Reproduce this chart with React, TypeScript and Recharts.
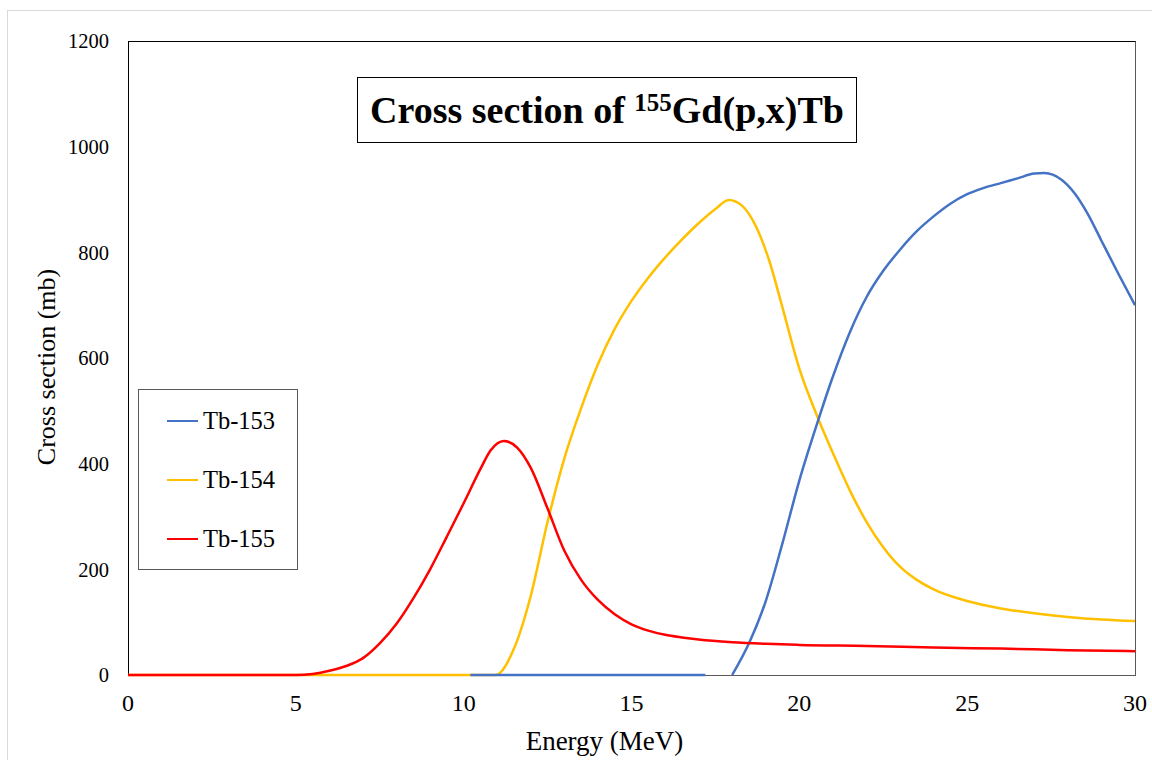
import React from "react";
import { LineChart, Line, XAxis, YAxis, Legend } from "recharts";

// ---- Data (energy in MeV, cross section in mb) ----
const tb153: { e: number; v: number | null }[] = [
  { e: 10.2, v: 0 }, { e: 17.2, v: 0 }, { e: 17.6, v: null }, { e: 18.0, v: 0 },
  { e: 18.5, v: 60 }, { e: 19, v: 140 }, { e: 19.5, v: 250 }, { e: 20, v: 368 },
  { e: 20.5, v: 470 }, { e: 21, v: 565 }, { e: 21.5, v: 648 }, { e: 22, v: 715 },
  { e: 22.5, v: 765 }, { e: 23, v: 805 }, { e: 23.5, v: 840 }, { e: 24, v: 868 },
  { e: 24.5, v: 892 }, { e: 25, v: 910 }, { e: 25.5, v: 922 }, { e: 26, v: 931 },
  { e: 26.5, v: 940 }, { e: 27, v: 949 }, { e: 27.3, v: 950 }, { e: 27.8, v: 938 },
  { e: 28.2, v: 912 }, { e: 28.6, v: 872 }, { e: 29, v: 822 }, { e: 29.5, v: 760 },
  { e: 30, v: 700 },
];

const tb154: { e: number; v: number }[] = [
  { e: 0, v: 0 }, { e: 10.95, v: 0 }, { e: 11.5, v: 50 }, { e: 12, v: 150 },
  { e: 12.5, v: 290 }, { e: 13, v: 410 }, { e: 13.5, v: 505 }, { e: 14, v: 588 },
  { e: 14.5, v: 655 }, { e: 15, v: 708 }, { e: 15.5, v: 752 }, { e: 16, v: 790 },
  { e: 16.5, v: 824 }, { e: 17, v: 855 }, { e: 17.5, v: 882 }, { e: 17.9, v: 899 },
  { e: 18.3, v: 888 }, { e: 18.7, v: 850 }, { e: 19.1, v: 785 }, { e: 19.5, v: 695 },
  { e: 20, v: 580 }, { e: 20.5, v: 495 }, { e: 21, v: 420 }, { e: 21.5, v: 350 },
  { e: 22, v: 290 }, { e: 22.5, v: 242 }, { e: 23, v: 205 }, { e: 23.5, v: 180 },
  { e: 24, v: 162 }, { e: 25, v: 140 }, { e: 26, v: 126 }, { e: 27, v: 117 },
  { e: 28, v: 110 }, { e: 29, v: 105 }, { e: 30, v: 102 },
];

const tb155: { e: number; v: number }[] = [
  { e: 0, v: 0 }, { e: 5, v: 0 }, { e: 5.5, v: 2 }, { e: 6, v: 8 },
  { e: 6.5, v: 17 }, { e: 7, v: 32 }, { e: 7.5, v: 60 }, { e: 8, v: 97 },
  { e: 8.5, v: 145 }, { e: 9, v: 200 }, { e: 9.5, v: 262 }, { e: 10, v: 325 },
  { e: 10.5, v: 390 }, { e: 10.8, v: 425 }, { e: 11.2, v: 443 }, { e: 11.6, v: 430 },
  { e: 12, v: 392 }, { e: 12.5, v: 315 }, { e: 13, v: 235 }, { e: 13.5, v: 180 },
  { e: 14, v: 142 }, { e: 14.5, v: 115 }, { e: 15, v: 96 }, { e: 15.5, v: 84 },
  { e: 16, v: 76 }, { e: 16.5, v: 71 }, { e: 17, v: 67 }, { e: 18, v: 62 },
  { e: 19, v: 59 }, { e: 20, v: 57 }, { e: 22, v: 55 }, { e: 24, v: 52 },
  { e: 26, v: 50 }, { e: 28, v: 47 }, { e: 30, v: 45 },
];

const seriesNames = ["Tb-153", "Tb-154", "Tb-155"];
const seriesColors = ["#4472C4", "#FFC000", "#FF0000"];

const xTicks = [0, 5, 10, 15, 20, 25, 30];
const yTicks = [0, 200, 400, 600, 800, 1000, 1200];

const xTitle = "Energy (MeV)";
const yTitle = "Cross section (mb)";

const FONT = '"Liberation Serif", "Times New Roman", serif';

const LegendBox = () => (
  <div
    style={{
      position: "relative",
      width: 160,
      height: 181,
      boxSizing: "border-box",
      border: "1.3px solid #595959",
      background: "#fff",
      fontFamily: FONT,
    }}
  >
    {seriesNames.map((n, i) => (
      <div
        key={n}
        style={{
          position: "absolute",
          left: 0,
          top: 31 + i * 59 - 15,
          height: 30,
          display: "flex",
          alignItems: "center",
        }}
      >
        <div
          style={{
            marginLeft: 28,
            width: 31,
            height: 2.5,
            background: seriesColors[i],
          }}
        />
        <span
          style={{
            marginLeft: 5,
            fontSize: 24.5,
            color: "#000",
            lineHeight: "30px",
          }}
        >
          {n}
        </span>
      </div>
    ))}
  </div>
);

const XTitle = (props: any) => {
  const vb = props.viewBox || {};
  return (
    <text
      x={vb.x + vb.width / 2 - 27}
      y={750}
      textAnchor="middle"
      fontFamily={FONT}
      fontSize={27}
      fill="#000"
    >
      {xTitle}
    </text>
  );
};

const YTitle = (props: any) => {
  const vb = props.viewBox || {};
  const cx = 46;
  const cy = vb.y + vb.height / 2 + 9;
  return (
    <text
      x={cx}
      y={cy}
      textAnchor="middle"
      dominantBaseline="central"
      transform={`rotate(-90, ${cx}, ${cy})`}
      fontFamily={FONT}
      fontSize={26}
      fill="#000"
    >
      {yTitle}
    </text>
  );
};

export default function App() {
  const order = [1, 0, 2];
  const datas = [tb153, tb154, tb155];
  return (
    <div
      style={{
        position: "relative",
        width: 1152,
        height: 760,
        overflow: "hidden",
        background: "#fff",
      }}
    >
      <style>{"body{margin:0;}"}</style>
      <div
        style={{
          position: "absolute",
          left: 7,
          top: 10,
          width: 1200,
          height: 800,
          border: "1px solid #d9d9d9",
        }}
      />
      {/* plot-area frame, drawn beneath the series */}
      <div
        style={{
          position: "absolute",
          left: 127.5,
          top: 40.5,
          width: 1008,
          height: 635,
          boxSizing: "border-box",
          borderLeft: "1.4px solid #000",
          borderTop: "1.4px solid #000",
          borderRight: "1.4px solid #595959",
          borderBottom: "1.4px solid #595959",
        }}
      />
      <div style={{ position: "absolute", left: 0, top: 0 }}>
        <LineChart
          width={1152}
          height={760}
          margin={{ top: 41, right: 17, bottom: 0, left: 0 }}
        >
          <XAxis
            dataKey="e"
            type="number"
            domain={[0, 30]}
            ticks={xTicks}
            allowDataOverflow
            height={85}
            tickLine={false}
            tickSize={0}
            tickMargin={19}
            axisLine={false}
            tick={{ fontFamily: FONT, fontSize: 24, fill: "#000" }}
            label={<XTitle />}
          />
          <YAxis
            type="number"
            domain={[0, 1200]}
            ticks={yTicks}
            width={128}
            tickLine={false}
            tickSize={0}
            tickMargin={19}
            axisLine={false}
            tick={{ fontFamily: FONT, fontSize: 20.5, fill: "#000" }}
            label={<YTitle />}
          />
          {order.map((i) => (
            <Line
              key={seriesNames[i]}
              name={seriesNames[i]}
              data={datas[i]}
              dataKey="v"
              type="monotone"
              stroke={seriesColors[i]}
              strokeWidth={2.5}
              dot={false}
              activeDot={false}
              isAnimationActive={false}
            />
          ))}
          <Legend
            layout="vertical"
            align="center"
            verticalAlign="middle"
            content={<LegendBox />}
            wrapperStyle={{ left: 138, top: 389, width: 160, height: 181 }}
          />
        </LineChart>
      </div>
      <div
        style={{
          position: "absolute",
          left: 357,
          top: 77,
          width: 500,
          height: 66,
          boxSizing: "border-box",
          border: "1.3px solid #000",
          background: "#fff",
          display: "flex",
          alignItems: "center",
          justifyContent: "center",
          fontFamily: FONT,
          fontWeight: "bold",
          fontSize: 38,
          color: "#000",
          whiteSpace: "nowrap",
        }}
      >
        <span>
          Cross section of{" "}
          <sup
            style={{
              fontSize: 25,
              verticalAlign: "top",
              lineHeight: 1,
              position: "relative",
              top: 2,
            }}
          >
            155
          </sup>
          Gd(p,x)Tb
        </span>
      </div>
    </div>
  );
}
